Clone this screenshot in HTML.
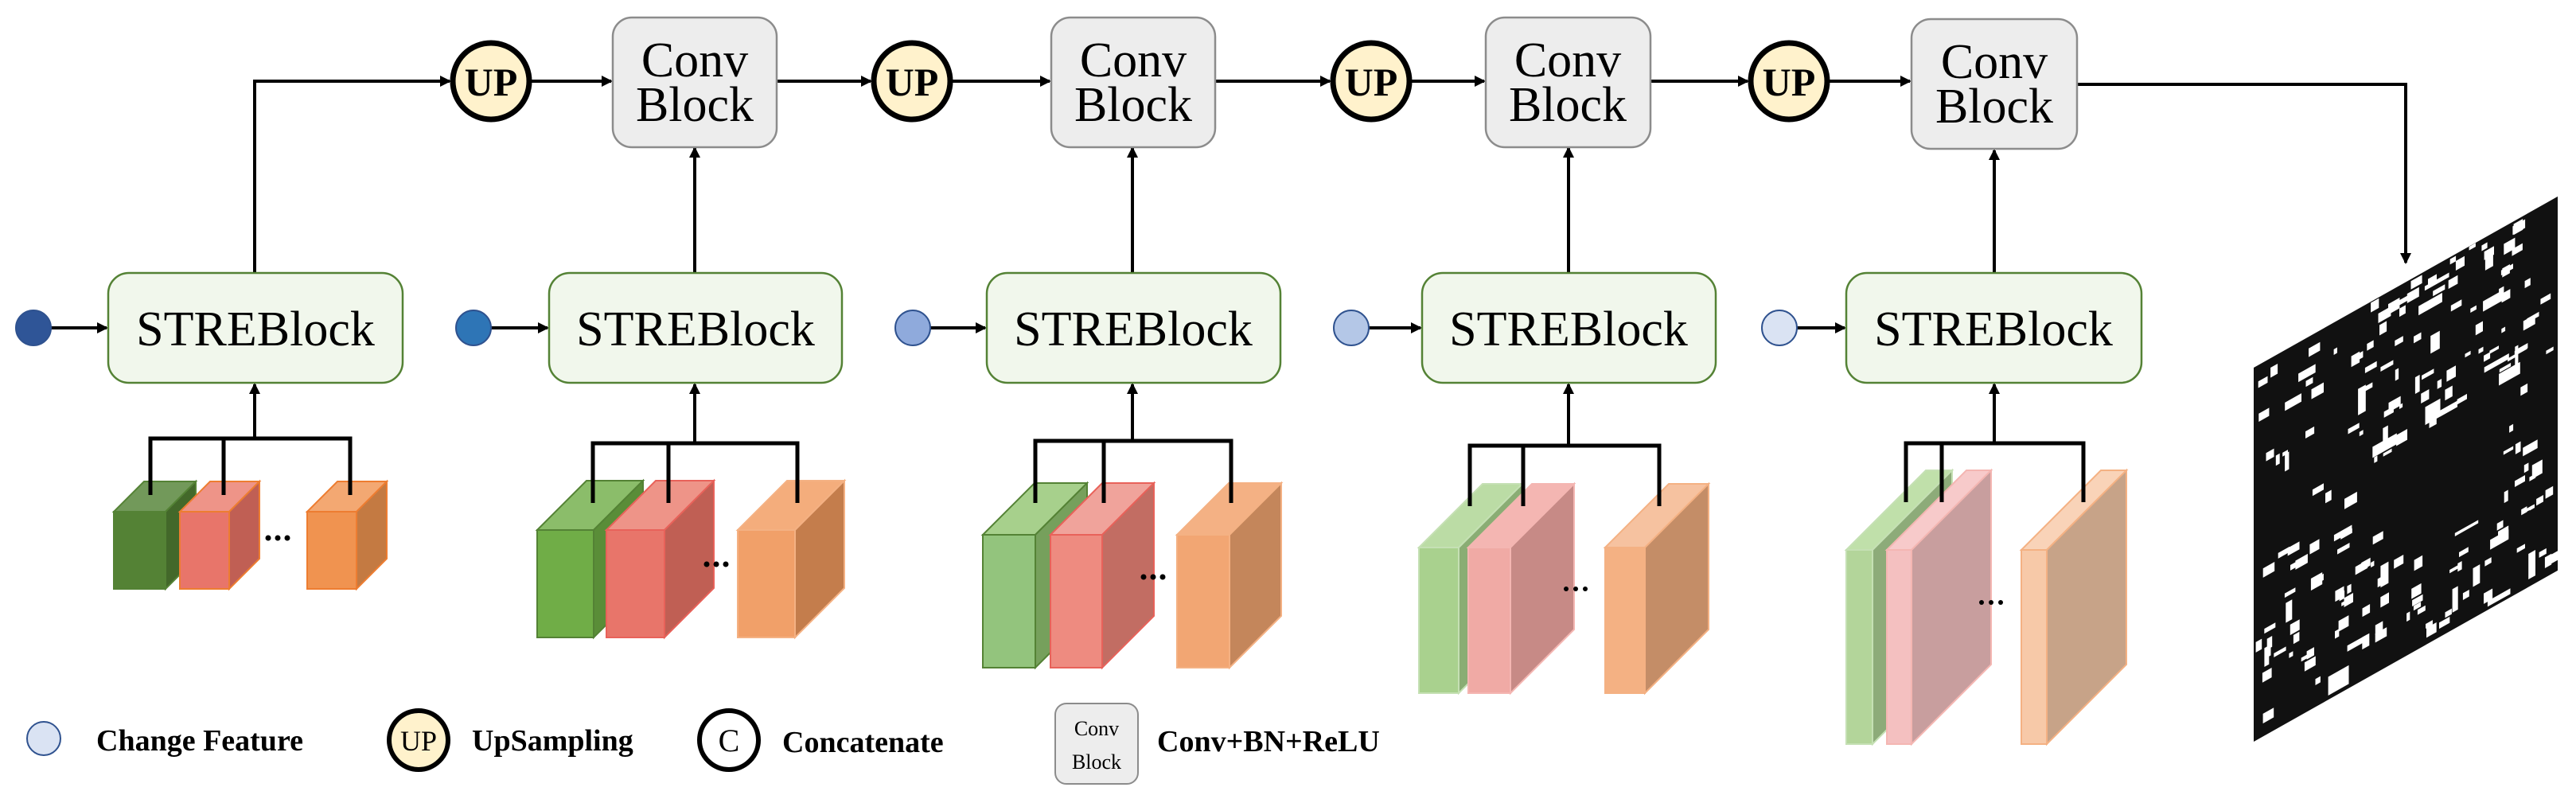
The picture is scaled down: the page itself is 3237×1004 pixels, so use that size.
<!DOCTYPE html>
<html><head><meta charset="utf-8"><style>
html,body{margin:0;padding:0;background:#fff;}
svg{display:block;}
svg text{font-family:"Liberation Serif","Times New Roman","Noto Serif CJK SC","DejaVu Serif",serif;}
</style></head><body>
<svg id="s" width="3237" height="1004" viewBox="0 0 3237 1004" xmlns="http://www.w3.org/2000/svg">
<defs>
<marker id="ah2" markerWidth="14" markerHeight="14" refX="12" refY="7" orient="auto" markerUnits="userSpaceOnUse">
<path d="M0,0 L14,7 L0,14 z" fill="#000"/></marker>
</defs>
<rect width="3237" height="1004" fill="#fff"/>
<g id="cubes"></g>
<g stroke="#000" stroke-width="5" fill="none">
<polyline points="189,622 189,551 440,551 440,622"/><line x1="281" y1="551" x2="281" y2="622"/>
<polyline points="745,632 745,557 1002,557 1002,632"/><line x1="840" y1="557" x2="840" y2="632"/>
<polyline points="1301,632 1301,554 1547,554 1547,632"/><line x1="1387" y1="554" x2="1387" y2="632"/>
<polyline points="1847,636 1847,560 2085,560 2085,636"/><line x1="1914" y1="560" x2="1914" y2="636"/>
<polyline points="2395,631 2395,557 2618,557 2618,631"/><line x1="2440" y1="557" x2="2440" y2="631"/>
</g>
<g stroke="#000" stroke-width="4" fill="none" marker-end="url(#ah2)">
<line x1="320" y1="551" x2="320" y2="483"/>
<line x1="873" y1="557" x2="873" y2="483"/>
<line x1="1423" y1="554" x2="1423" y2="483"/>
<line x1="1971" y1="560" x2="1971" y2="483"/>
<line x1="2506" y1="557" x2="2506" y2="483"/>
<line x1="873" y1="343" x2="873" y2="186"/>
<line x1="1423" y1="343" x2="1423" y2="186"/>
<line x1="1971" y1="343" x2="1971" y2="186"/>
<line x1="2506" y1="343" x2="2506" y2="189"/>
<polyline points="320,343 320,102 565,102"/>
<line x1="667" y1="102" x2="768" y2="102"/>
<line x1="976" y1="102" x2="1094" y2="102"/>
<line x1="1196" y1="102" x2="1319" y2="102"/>
<line x1="1527" y1="102" x2="1671" y2="102"/>
<line x1="1773" y1="102" x2="1865" y2="102"/>
<line x1="2074" y1="102" x2="2196" y2="102"/>
<line x1="2298" y1="102" x2="2400" y2="102"/>
<polyline points="2610,106 3023,106 3023,330"/>
<line x1="64" y1="412" x2="134" y2="412"/>
<line x1="617" y1="412" x2="688" y2="412"/>
<line x1="1169" y1="412" x2="1238" y2="412"/>
<line x1="1720" y1="412" x2="1785" y2="412"/>
<line x1="2258" y1="412" x2="2318" y2="412"/>
</g>
<g fill="#f1f7ec" stroke="#548235" stroke-width="2.5">
<rect x="136" y="343" width="370" height="138" rx="26"/>
<rect x="690" y="343" width="368" height="138" rx="26"/>
<rect x="1240" y="343" width="369" height="138" rx="26"/>
<rect x="1787" y="343" width="369" height="138" rx="26"/>
<rect x="2320" y="343" width="371" height="138" rx="26"/>
</g>
<g font-size="62" text-anchor="middle">
<text x="321" y="434">STREBlock</text>
<text x="874" y="434">STREBlock</text>
<text x="1424" y="434">STREBlock</text>
<text x="1971" y="434">STREBlock</text>
<text x="2505" y="434">STREBlock</text>
</g>
<g stroke="#2f528f" stroke-width="2">
<circle cx="42" cy="412" r="22" fill="#2f5597"/>
<circle cx="595" cy="412" r="22" fill="#2e75b6"/>
<circle cx="1147" cy="412" r="22" fill="#8faadc"/>
<circle cx="1698" cy="412" r="22" fill="#b4c7e7"/>
<circle cx="2236" cy="412" r="22" fill="#dae3f3"/>
</g>
<g fill="#ededed" stroke="#8c8c8c" stroke-width="2.5">
<rect x="770" y="22" width="206" height="163" rx="24"/>
<rect x="1321" y="22" width="206" height="163" rx="24"/>
<rect x="1867" y="22" width="207" height="163" rx="24"/>
<rect x="2402" y="24" width="208" height="163" rx="24"/>
</g>
<g font-size="62" text-anchor="middle">
<text x="873" y="96">Conv</text><text x="873" y="152">Block</text>
<text x="1424" y="96">Conv</text><text x="1424" y="152">Block</text>
<text x="1970" y="96">Conv</text><text x="1970" y="152">Block</text>
<text x="2506" y="98">Conv</text><text x="2506" y="154">Block</text>
</g>
<g fill="#fff2cc" stroke="#000" stroke-width="7">
<circle cx="617" cy="102" r="48"/>
<circle cx="1146" cy="102" r="48"/>
<circle cx="1723" cy="102" r="48"/>
<circle cx="2248" cy="102" r="48"/>
</g>
<g font-size="50" font-weight="bold" text-anchor="middle">
<text x="617" y="120">UP</text><text x="1146" y="120">UP</text>
<text x="1723" y="120">UP</text><text x="2248" y="120">UP</text>
</g>
<g transform="matrix(1,-0.563,0,1,2832,462)">
<rect x="0" y="0" width="382" height="470" fill="#111"/>
<g id="mrects" fill="#fff"></g>
</g>
<g>
<circle cx="55" cy="928" r="21" fill="#dae3f3" stroke="#2f528f" stroke-width="2"/>
<text x="121" y="943" font-size="38" font-weight="bold">Change Feature</text>
<circle cx="526" cy="930" r="37" fill="#fff2cc" stroke="#000" stroke-width="6"/>
<text x="526" y="943" font-size="36" text-anchor="middle">UP</text>
<text x="593" y="943" font-size="38" font-weight="bold">UpSampling</text>
<circle cx="916" cy="930" r="37" fill="#fff" stroke="#000" stroke-width="6"/>
<text x="916" y="944" font-size="40" text-anchor="middle">C</text>
<text x="983" y="945" font-size="38" font-weight="bold">Concatenate</text>
<rect x="1326" y="884" width="104" height="101" rx="14" fill="#ededed" stroke="#8c8c8c" stroke-width="2"/>
<text x="1378" y="924" font-size="26" text-anchor="middle">Conv</text>
<text x="1378" y="966" font-size="26" text-anchor="middle">Block</text>
<text x="1454" y="944" font-size="38" font-weight="bold">Conv+BN+ReLU</text>
</g>
<g fill="#000">
<circle cx="337" cy="676" r="3.5"/><circle cx="349" cy="676" r="3.5"/><circle cx="361" cy="676" r="3.5"/>
<circle cx="888" cy="709" r="3.5"/><circle cx="900" cy="709" r="3.5"/><circle cx="912" cy="709" r="3.5"/>
<circle cx="1437" cy="725" r="3.5"/><circle cx="1449" cy="725" r="3.5"/><circle cx="1461" cy="725" r="3.5"/>
<circle cx="1968" cy="740" r="3"/><circle cx="1980" cy="740" r="3"/><circle cx="1992" cy="740" r="3"/>
<circle cx="2490" cy="757" r="3"/><circle cx="2502" cy="757" r="3"/><circle cx="2514" cy="757" r="3"/>
</g>
</svg>
<script>
(function(){
var NS="http://www.w3.org/2000/svg";
var cg=document.getElementById("cubes");
function poly(pts,fill,stroke){var p=document.createElementNS(NS,"polygon");p.setAttribute("points",pts.map(function(a){return a.join(",")}).join(" "));p.setAttribute("fill",fill);p.setAttribute("stroke",stroke);p.setAttribute("stroke-width","2");cg.appendChild(p);}
function cube(x,y,w,h,d,c){
 poly([[x,y],[x+d,y-d],[x+w+d,y-d],[x+w,y]],c[2],c[3]);
 poly([[x+w,y],[x+w+d,y-d],[x+w+d,y+h-d],[x+w,y+h]],c[1],c[3]);
 poly([[x,y],[x+w,y],[x+w,y+h],[x,y+h]],c[0],c[3]);
}
var G=[
 [38,643,97,[[143,65,["#548235","#43682a","#72995a","#548235"]],[226,62,["#e8756a","#c05f54","#ee9488","#ed7d31"]],[386,62,["#f09350","#c47a42","#f3a872","#ed7d31"]]]],
 [62,666,135,[[675,71,["#70ad47","#5a8d38","#8bbd6a","#548235"]],[762,73,["#e8756a","#c05f54","#ee9488","#e8625a"]],[927,72,["#f1a069","#c47d4c","#f4ad7c","#f4b183"]]]],
 [65,672,167,[[1235,66,["#93c47d","#76a05c","#a7d08c","#548235"]],[1320,65,["#ee8b80","#c26d63","#f0a39b","#e8625a"]],[1479,66,["#f2a673","#c4865b","#f4b184","#f4b183"]]]],
 [80,688,183,[[1783,50,["#a9d18e","#8aad74","#bbdca5","#c5e0b4"]],[1845,53,["#f0aaa5","#c78a86","#f4b6b2","#f4b6b2"]],[2017,50,["#f4b183","#c48d67","#f6c2a0","#f4b183"]]]],
 [100,691,244,[[2320,33,["#b3d59a","#8dab79","#c0e0aa","#c5e0b4"]],[2371,31,["#f4c0c0","#c89e9e","#f7caca","#f4b6b2"]],[2540,32,["#f7c9a8","#c7a388","#f9d3b8","#f4b183"]]]]
];
G.forEach(function(g){g[3].forEach(function(c){cube(c[0],g[1],c[1],g[2],g[0],c[2]);});});
var mg=document.getElementById("mrects");var s=12345;
function r(){s=(s*1103515245+12345)%2147483648;return s/2147483648;}
for(var i=0;i<260;i++){var x=r()*370,y=r()*460;
 var dense=(x>100&&x<380&&y<250)||y>250&&y<400;
 if(!dense&&r()<0.5)continue;
 if(x>150&&x<300&&y>200&&y<340&&r()<0.85)continue;
 var w=4+r()*12,h=4+r()*10;if(r()<0.15){w*=2;}if(r()<0.1){h*=2.5;}
 var e=document.createElementNS(NS,"rect");e.setAttribute("x",x.toFixed(1));e.setAttribute("y",y.toFixed(1));e.setAttribute("width",Math.min(w,382-x).toFixed(1));e.setAttribute("height",h.toFixed(1));mg.appendChild(e);}
})();
</script>
</body></html>
